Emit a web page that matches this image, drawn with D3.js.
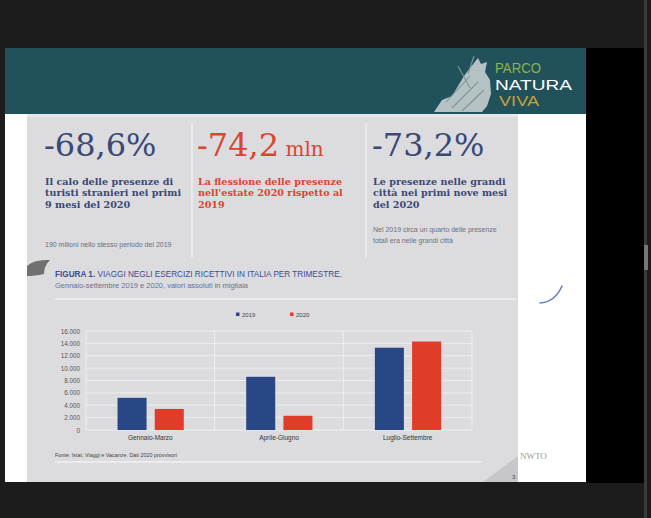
<!DOCTYPE html>
<html>
<head>
<meta charset="utf-8">
<script src="https://cdn.jsdelivr.net/npm/d3@7"></script>
<style>
  html, body { margin: 0; padding: 0; background: #1c1c1c; }
  svg { display: block; }
</style>
</head>
<body>
<div id="chart"></div>
<script>
// chart data
var categories = ["Gennaio-Marzo", "Aprile-Giugno", "Luglio-Settembre"];
var series = ["2019", "2020"];
var values2019 = [5200, 8600, 13300];
var values2020 = [3400, 2300, 14300];
var yTicks = [0, 2000, 4000, 6000, 8000, 10000, 12000, 14000, 16000];

// headline figures
var headlines = ["-68,6%", "-74,2", "-73,2%"];
var headlineUnits = ["", " mln", ""];
var captions = [
  ["Il calo delle presenze di", "turisti stranieri nei primi", "9 mesi del 2020"],
  ["La flessione delle presenze", "nell'estate 2020 rispetto al", "2019"],
  ["Le presenze nelle grandi", "città nei primi nove mesi", "del 2020"]
];
var notes = [
  ["190 milioni nello stesso periodo del 2019"],
  [],
  ["Nel 2019 circa un quarto delle presenze", "totali era nelle grandi città"]
];

var W = 651, H = 518;
var blue = "#2a4785", red = "#e03c2a";
var textBlue = "#3a4876", textRed = "#d9452f";

var svg = d3.select("#chart").append("svg")
  .attr("width", W)
  .attr("height", H);

// screen background and slide frame
svg.append("rect").attr("width", W).attr("height", H).attr("fill", "#1c1c1c");
svg.append("rect").attr("x", 586).attr("y", 48).attr("width", 58).attr("height", 435).attr("fill", "#000");
svg.append("rect").attr("x", 644).attr("y", 0).attr("width", 3).attr("height", H).attr("fill", "#3a3a3a");
svg.append("rect").attr("x", 644).attr("y", 245).attr("width", 4).attr("height", 25).attr("fill", "#777");
svg.append("rect").attr("x", 5).attr("y", 48).attr("width", 581).attr("height", 434).attr("fill", "#ffffff");

// teal header
svg.append("rect").attr("x", 5).attr("y", 48).attr("width", 581).attr("height", 66).attr("fill", "#21525b");

// logo illustration (rough sketch)
svg.append("path")
  .attr("d", "M434,112 L442,100 L452,96 L458,86 L464,76 L470,68 L478,58 L481,64 L487,62 L485,72 L490,80 L491,94 L487,106 L482,112 Z")
  .attr("fill", "#cfd6d6").attr("opacity", 0.85);
svg.append("path")
  .attr("d", "M446,102 L470,76 M452,108 L478,82 M462,111 L484,90 M458,66 L470,88 M474,56 L468,74")
  .attr("stroke", "#7f9699").attr("stroke-width", 1.1).attr("fill", "none");

var logo = svg.append("g").attr("font-family", "'Liberation Sans', Arial, sans-serif");
logo.append("text").attr("x", 495).attr("y", 73).attr("font-size", 14.5).attr("textLength", 46)
  .attr("lengthAdjust", "spacingAndGlyphs").attr("fill", "#8fb24a").text("PARCO");
logo.append("text").attr("x", 495).attr("y", 90).attr("font-size", 14.5).attr("textLength", 77)
  .attr("lengthAdjust", "spacingAndGlyphs").attr("fill", "#ffffff").text("NATURA");
logo.append("text").attr("x", 499).attr("y", 106).attr("font-size", 14.5).attr("textLength", 40)
  .attr("lengthAdjust", "spacingAndGlyphs").attr("fill", "#c9a23a").text("VIVA");

// gray content panel
svg.append("rect").attr("x", 27).attr("y", 114).attr("width", 491).attr("height", 368).attr("fill", "#dcdcdf");
svg.append("rect").attr("x", 27).attr("y", 114).attr("width", 491).attr("height", 3).attr("fill", "#e8e8ea");

// page fold bottom right
svg.append("path").attr("d", "M483,482 L518,456 L518,482 Z").attr("fill", "#c6c6cb");
svg.append("text").attr("x", 512).attr("y", 479).attr("font-size", 6).attr("font-family", "'Liberation Sans', sans-serif")
  .attr("fill", "#444").text("3");
svg.append("text").attr("x", 520).attr("y", 459).attr("font-size", 9).attr("font-family", "'Liberation Serif', serif")
  .attr("fill", "#9a9a9a").text("NWTO");

// pen mark
svg.append("path").attr("d", "M540,303 Q555,302 562,286")
  .attr("stroke", "#6d7fc0").attr("stroke-width", 1.6).attr("fill", "none").attr("stroke-linecap", "round");

// headline columns
var colX = [44, 197, 372];
var colColor = [textBlue, textRed, textBlue];

[192, 366].forEach(function (x) {
  svg.append("line").attr("x1", x).attr("x2", x).attr("y1", 123).attr("y2", 258)
    .attr("stroke", "#f4f4f6").attr("stroke-width", 1.2);
});

headlines.forEach(function (h, i) {
  var t = svg.append("text")
    .attr("x", colX[i]).attr("y", 156)
    .attr("font-family", "'DejaVu Serif', Georgia, serif")
    .attr("font-size", 32)
    .attr("fill", colColor[i])
    .text(h);
  if (headlineUnits[i]) {
    t.append("tspan").attr("font-size", 20).text(headlineUnits[i]);
  }
});

captions.forEach(function (lines, i) {
  lines.forEach(function (line, j) {
    svg.append("text")
      .attr("x", colX[i] + 1).attr("y", 185 + j * 11.3)
      .attr("font-family", "'DejaVu Serif', Georgia, serif")
      .attr("font-weight", "bold")
      .attr("font-size", 9.6)
      .attr("fill", colColor[i])
      .text(line);
  });
});

notes.forEach(function (lines, i) {
  lines.forEach(function (line, j) {
    svg.append("text")
      .attr("x", colX[i] + 1).attr("y", (i === 0 ? 247 : 232) + j * 11)
      .attr("font-family", "'Liberation Sans', Arial, sans-serif")
      .attr("font-size", 7)
      .attr("fill", "#6b6f80")
      .text(line);
  });
});

// curl icon left
svg.append("path")
  .attr("d", "M27,266 Q34,259 50,260 Q44,266 44,274 Q34,276 27,276 Z")
  .attr("fill", "#707070");

// figure title
var title = svg.append("text")
  .attr("x", 55).attr("y", 277)
  .attr("font-family", "'Liberation Sans', Arial, sans-serif")
  .attr("font-size", 8.2)
  .attr("fill", "#3a4c94");
title.append("tspan").attr("font-weight", "bold").text("FIGURA 1. ");
title.append("tspan").text("VIAGGI NEGLI ESERCIZI RICETTIVI IN ITALIA PER TRIMESTRE.");

svg.append("text")
  .attr("x", 55).attr("y", 288)
  .attr("font-family", "'Liberation Sans', Arial, sans-serif")
  .attr("font-size", 7.5)
  .attr("fill", "#6a7090")
  .text("Gennaio-settembre 2019 e 2020, valori assoluti in migliaia");

svg.append("line").attr("x1", 55).attr("x2", 516).attr("y1", 299).attr("y2", 299)
  .attr("stroke", "#f2f2f4").attr("stroke-width", 1.5);

// chart
var plot = { left: 86, right: 472, top: 331, bottom: 430 };

var x0 = d3.scaleBand()
  .domain(categories)
  .range([plot.left, plot.right]);

var x1 = d3.scaleBand()
  .domain(series)
  .range([x0.bandwidth() * 0.245, x0.bandwidth() * 0.76])
  .paddingInner(0.22);

var y = d3.scaleLinear()
  .domain([0, 16000])
  .range([plot.bottom, plot.top]);

var color = d3.scaleOrdinal().domain(series).range([blue, red]);

var grid = svg.append("g");
grid.selectAll("line.h")
  .data(yTicks)
  .enter()
  .append("line")
  .attr("class", "h")
  .attr("x1", plot.left).attr("x2", plot.right)
  .attr("y1", function (d) { return y(d); })
  .attr("y2", function (d) { return y(d); })
  .attr("stroke", "#f3f3f5").attr("stroke-width", 0.8);

var vLines = categories.map(function (c) { return x0(c); }).concat([plot.right]);
grid.selectAll("line.v")
  .data(vLines)
  .enter()
  .append("line")
  .attr("class", "v")
  .attr("x1", function (d) { return d; }).attr("x2", function (d) { return d; })
  .attr("y1", plot.top).attr("y2", plot.bottom)
  .attr("stroke", "#f3f3f5").attr("stroke-width", 0.8);

// y axis labels
var fmt = function (d) { return d3.format(",")(d).replace(/,/g, "."); };
var yAxis = svg.append("g")
  .attr("transform", "translate(" + (plot.left - 6) + ",0)")
  .call(d3.axisLeft(y).tickValues(yTicks).tickFormat(fmt).tickSize(0).tickPadding(0));
yAxis.select(".domain").remove();
yAxis.selectAll("text")
  .attr("font-family", "'Liberation Sans', Arial, sans-serif")
  .attr("font-size", 6.3)
  .attr("fill", "#555");

// bars
var rows = categories.map(function (c, i) {
  return { cat: c, vals: [{ s: "2019", v: values2019[i] }, { s: "2020", v: values2020[i] }] };
});

var groups = svg.selectAll("g.grp")
  .data(rows)
  .enter()
  .append("g")
  .attr("class", "grp")
  .attr("transform", function (d) { return "translate(" + x0(d.cat) + ",0)"; });

groups.selectAll("rect")
  .data(function (d) { return d.vals; })
  .enter()
  .append("rect")
  .attr("x", function (d) { return x1(d.s); })
  .attr("width", x1.bandwidth())
  .attr("y", function (d) { return y(d.v); })
  .attr("height", function (d) { return y(0) - y(d.v); })
  .attr("fill", function (d) { return color(d.s); });

// x axis labels
var xAxis = svg.append("g")
  .attr("transform", "translate(0," + (plot.bottom + 5) + ")")
  .call(d3.axisBottom(x0).tickSize(0).tickPadding(0));
xAxis.select(".domain").remove();
xAxis.selectAll("text")
  .attr("font-family", "'Liberation Sans', Arial, sans-serif")
  .attr("font-size", 6.5)
  .attr("fill", "#333");

// legend
var legend = svg.selectAll("g.leg")
  .data(series)
  .enter()
  .append("g")
  .attr("class", "leg")
  .attr("transform", function (d, i) { return "translate(" + (236 + i * 54) + ",316)"; });
legend.append("rect").attr("x", 0).attr("y", -3.5).attr("width", 3.5).attr("height", 3.5)
  .attr("fill", function (d) { return color(d); });
legend.append("text").attr("x", 6).attr("y", 0.5)
  .attr("font-family", "'Liberation Sans', Arial, sans-serif")
  .attr("font-size", 6).attr("fill", "#444")
  .text(function (d) { return d; });

// source
svg.append("text")
  .attr("x", 55).attr("y", 457)
  .attr("font-family", "'Liberation Sans', Arial, sans-serif")
  .attr("font-size", 5.4)
  .attr("fill", "#444")
  .text("Fonte: Istat, Viaggi e Vacanze. Dati 2020 provvisori");

svg.append("line").attr("x1", 55).attr("x2", 482).attr("y1", 462).attr("y2", 462)
  .attr("stroke", "#f2f2f4").attr("stroke-width", 1.5);
</script>
</body>
</html>
